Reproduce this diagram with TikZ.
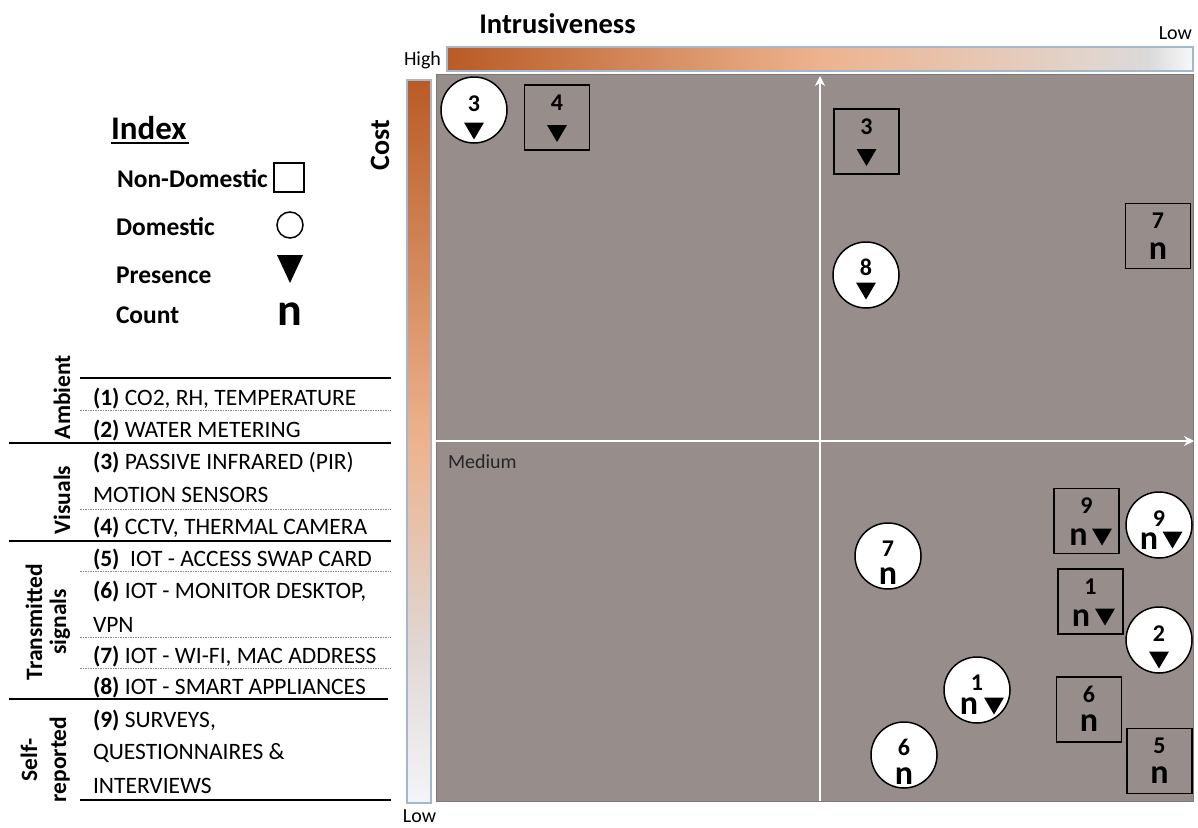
\documentclass[tikz,border=0pt]{standalone}
\usepackage{fontspec}
\setmainfont{Carlito}
\usetikzlibrary{arrows.meta}
\definecolor{cA}{HTML}{B95B25}
\definecolor{cB}{HTML}{EDB38E}
\definecolor{cC}{HTML}{E2D4CC}
\definecolor{cD}{HTML}{DADADA}
\definecolor{cE}{HTML}{F8F8F8}
\definecolor{vD}{HTML}{E0D6D2}
\definecolor{vE}{HTML}{F3F5F8}
\definecolor{plotgray}{HTML}{978D8B}
\definecolor{plotborder}{HTML}{7F7775}
\definecolor{barborder}{HTML}{A3B8CC}
\definecolor{dotgray}{HTML}{8A8A8A}
\pgfdeclarehorizontalshading{intrsh}{100bp}{color(0bp)=(cA); color(25bp)=(cA); color(50bp)=(cB); color(68bp)=(cC); color(72bp)=(cD); color(75bp)=(cE); color(100bp)=(cE)}
\pgfdeclareverticalshading{costsh}{100bp}{color(0bp)=(vE); color(25bp)=(vE); color(36bp)=(vD); color(50bp)=(cB); color(75bp)=(cA); color(100bp)=(cA)}
\newcommand\fsz[2]{\fontsize{#1}{#2}\selectfont}
\tikzset{
  every node/.style={inner sep=0pt, outer sep=0pt},
  sqm/.style={draw=black, line width=1.5pt, minimum width=65pt, minimum height=65pt},
  cim/.style={draw=black, line width=1.5pt, fill=white, circle, minimum size=66pt},
  numt/.style={font=\fsz{24}{27}\bfseries, anchor=base},
  nt/.style={font=\fsz{34}{38}\bfseries, anchor=base},
  tbl/.style={font=\fsz{23.5}{28}, anchor=base west},
  cat/.style={font=\fsz{23.5}{28}\bfseries, rotate=90, anchor=base},
  leg/.style={font=\fsz{25.5}{30}\bfseries, anchor=base west},
  axl/.style={font=\fsz{20}{24}, anchor=base},
  solidrule/.style={black, line width=1.5pt},
  dotrule/.style={dotgray, line width=1pt, dash pattern=on 1.5pt off 1pt},
  warrow/.style={white, line width=2.5pt, -{Stealth[length=10pt,width=10pt]}},
  pics/tri/.style={code={\fill (-10,-8.5) -- (10,-8.5) -- (0,8.5) -- cycle;}},
  pics/bigtri/.style={code={\fill (-13,-14) -- (13,-14) -- (0,14) -- cycle;}},
}
\begin{document}
\begin{tikzpicture}[x=1pt,y=-1pt]
\useasboundingbox (0,0) rectangle (1198,827);

% ---------- axes bars ----------
\shade[shading=intrsh, draw=barborder, line width=1.5pt] (447,47) rectangle (1193,71);
\shade[shading=costsh, draw=barborder, line width=1.5pt] (407,80) rectangle (431,803);

\node[font=\fsz{28.5}{32}\bfseries, anchor=base] (title) at (557.5,33) {Intrusiveness};
\node[axl, anchor=base east] (highx) at (441,65) {High};
\node[axl, anchor=base east] (lowx) at (1192,39) {Low};
\node[font=\fsz{28}{32}\bfseries, rotate=90, anchor=base] (cost) at (389,145) {Cost};
\node[axl, anchor=base] (lowy) at (419.5,822) {Low};

% ---------- plot area ----------
\fill[plotgray] (436,74) rectangle (1193,801);
\draw[plotborder, line width=1pt] (436,74) rectangle (1193,801);
\coordinate (vb) at (820,801);
\coordinate (vt) at (820,76);
\coordinate (hl) at (436,441);
\coordinate (hr) at (1194,441);
\draw[warrow] (vb) -- (vt);
\draw[warrow] (hl) -- (hr);
\node[axl, anchor=base west, text=black!85] (medium) at (448,468) {Medium};

% ---------- markers: squares ----------
\node[sqm] (s4) at (557,117.5) {};
\node[numt] (s4-num) at (557,110) {4};
\pic at (557,133.5) {tri};

\node[sqm] (s3) at (866.5,141.5) {};
\node[numt] (s3-num) at (866.5,134) {3};
\pic at (866.5,157.5) {tri};

\node[sqm] (s7) at (1158,236) {};
\node[numt] (s7-num) at (1158,228) {7};
\node[nt] (s7-n) at (1158,259) {n};

\node[sqm] (s9) at (1086.5,521) {};
\node[numt] (s9-num) at (1086.5,513) {9};
\node[nt] (s9-n) at (1078.5,545) {n};
\pic at (1102,537) {tri};

\node[sqm] (s1) at (1090.5,601.5) {};
\node[numt] (s1-num) at (1090.5,594) {1};
\node[nt] (s1-n) at (1081,626) {n};
\pic at (1105,617) {tri};

\node[sqm] (s6) at (1089,709.5) {};
\node[numt] (s6-num) at (1089,702) {6};
\node[nt] (s6-n) at (1089,731) {n};

\node[sqm] (s5) at (1159.5,761) {};
\node[numt] (s5-num) at (1159.5,753) {5};
\node[nt] (s5-n) at (1159.5,783) {n};

% ---------- markers: circles ----------
\node[cim] (c3) at (474,110) {};
\node[numt] (c3-num) at (474,111) {3};
\pic at (474,131) {tri};

\node[cim] (c8) at (866,275) {};
\node[numt] (c8-num) at (866,275) {8};
\pic at (866,291) {tri};

\node[cim] (c9) at (1159,525) {};
\node[numt] (c9-num) at (1159,526) {9};
\node[nt] (c9-n) at (1149,549) {n};
\pic at (1172.5,540) {tri};

\node[cim] (c7) at (888,556) {};
\node[numt] (c7-num) at (888,556) {7};
\node[nt] (c7-n) at (888,584) {n};

\node[cim] (c2) at (1159,640) {};
\node[numt] (c2-num) at (1159,641) {2};
\pic at (1159,660) {tri};

\node[cim] (c1) at (977,690) {};
\node[numt] (c1-num) at (977,690) {1};
\node[nt] (c1-n) at (969,714) {n};
\pic at (994,706) {tri};

\node[cim] (c6) at (904,755) {};
\node[numt] (c6-num) at (904,755) {6};
\node[nt] (c6-n) at (904,784) {n};

% ---------- index legend ----------
\node[font=\fsz{33}{38}\bfseries, anchor=base west] (idx) at (111,139) {Index};
\draw[black, line width=2pt] (111,143) -- (189,143);
\node[leg] (lnd) at (117,187) {Non-Domestic};
\node[draw=black, line width=1.5pt, minimum width=30pt, minimum height=29pt] (lsq) at (289,177.5) {};
\node[leg] (ld) at (116,235) {Domestic};
\node[draw=black, line width=1.5pt, circle, minimum size=26pt] (lci) at (290,225) {};
\node[leg] (lp) at (116,283) {Presence};
\pic at (290,269) {bigtri};
\node[leg] (lc) at (116,323) {Count};
\node[font=\fsz{46}{50}\bfseries, anchor=base] (ln) at (290,325) {n};

% ---------- table ----------
\draw[solidrule] (80,378) -- (391,378);
\draw[dotrule] (80,410) -- (391,410);
\draw[solidrule] (9,443) -- (391,443);
\draw[dotrule] (80,509) -- (391,509);
\draw[solidrule] (9,541) -- (391,541);
\draw[dotrule] (80,571) -- (391,571);
\draw[dotrule] (80,637) -- (391,637);
\draw[dotrule] (80,668) -- (391,668);
\draw[solidrule] (9,699) -- (388,699);
\draw[solidrule] (80,800) -- (391,800);

\node[tbl] (t1) at (93,405) {\textbf{(1)} CO2, RH, TEMPERATURE};
\node[tbl] (t2) at (93,437) {\textbf{(2)} WATER METERING};
\node[tbl] (t3) at (93,469) {\textbf{(3)} PASSIVE INFRARED (PIR)};
\node[tbl] (t3b) at (93,502) {MOTION SENSORS};
\node[tbl] (t4) at (93,534) {\textbf{(4)} CCTV, THERMAL CAMERA};
\node[tbl] (t5) at (93,566) {\textbf{(5)}\ \ IOT - ACCESS SWAP CARD};
\node[tbl] (t6) at (93,598) {\textbf{(6)} IOT - MONITOR DESKTOP,};
\node[tbl] (t6b) at (93,632) {VPN};
\node[tbl] (t7) at (93,663) {\textbf{(7)} IOT - WI-FI, MAC ADDRESS};
\node[tbl] (t8) at (93,694) {\textbf{(8)} IOT - SMART APPLIANCES};
\node[tbl] (t9) at (93,727) {\textbf{(9)} SURVEYS,};
\node[tbl] (t9b) at (93,759) {QUESTIONNAIRES \&};
\node[tbl] (t9c) at (93,793) {INTERVIEWS};

\node[cat] (camb) at (70,397) {Ambient};
\node[cat] (cvis) at (70,500) {Visuals};
\node[cat] (ctr1) at (42,622) {Transmitted};
\node[cat] (ctr2) at (66,622) {signals};
\node[cat] (csr1) at (37,760) {Self-};
\node[cat] (csr2) at (66,759.5) {reported};
\end{tikzpicture}
\end{document}
